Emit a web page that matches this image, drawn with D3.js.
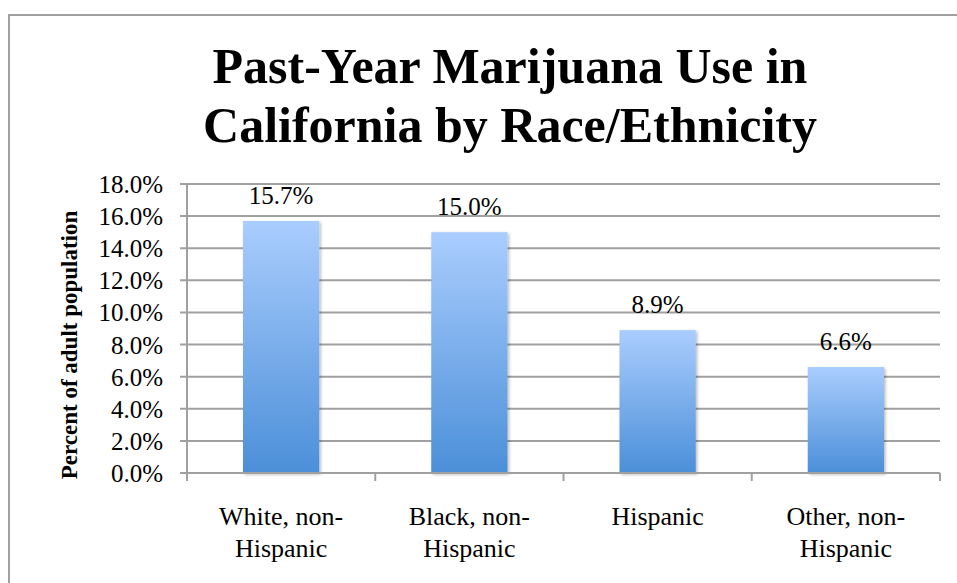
<!DOCTYPE html>
<html>
<head>
<meta charset="utf-8">
<script src="https://cdn.jsdelivr.net/npm/d3@7"></script>
<style>
  html, body { margin: 0; padding: 0; background: #fff; }
  svg { display: block; }
  text { font-family: "Liberation Serif", "Times New Roman", serif; fill: #000; }
</style>
</head>
<body>
<svg id="chart" width="957" height="583"></svg>
<script>
const titleLines = ["Past-Year Marijuana Use in", "California by Race/Ethnicity"];
const yAxisTitle = "Percent of adult population";
const categories = ["White, non-Hispanic", "Black, non-Hispanic", "Hispanic", "Other, non-Hispanic"];
const categoryLabelLines = [["White, non-", "Hispanic"], ["Black, non-", "Hispanic"], ["Hispanic"], ["Other, non-", "Hispanic"]];
const values = [15.7, 15.0, 8.9, 6.6];
const yTicks = [0, 2, 4, 6, 8, 10, 12, 14, 16, 18];

const svg = d3.select("#chart");
const m = { left: 187, right: 940, top: 184, bottom: 473 };

// chart border (extends beyond right/bottom of view)
svg.append("rect")
  .attr("x", 9).attr("y", 15).attr("width", 1100).attr("height", 700)
  .attr("fill", "#fff").attr("stroke", "#a0a0a0").attr("stroke-width", 2);

const defs = svg.append("defs");
const grad = defs.append("linearGradient").attr("id", "barGrad")
  .attr("x1", 0).attr("y1", 0).attr("x2", 0).attr("y2", 1);
grad.append("stop").attr("offset", "0%").attr("stop-color", "#aacdfe");
grad.append("stop").attr("offset", "100%").attr("stop-color", "#4b8fd8");

const filt = defs.append("filter").attr("id", "shadow")
  .attr("x", "-20%").attr("y", "-10%").attr("width", "140%").attr("height", "120%");
filt.append("feDropShadow").attr("dx", 1.5).attr("dy", 1.5).attr("stdDeviation", 1.8)
  .attr("flood-color", "#000").attr("flood-opacity", 0.28);

const x = d3.scaleBand().domain(categories).range([m.left, m.right]).paddingInner(0).paddingOuter(0);
const y = d3.scaleLinear().domain([0, 18]).range([m.bottom, m.top]);

// gridlines
svg.append("g").selectAll("line").data(yTicks).join("line")
  .attr("x1", m.left - 7).attr("x2", m.right)
  .attr("y1", d => y(d)).attr("y2", d => y(d))
  .attr("stroke", "#a0a0a0").attr("stroke-width", 2);

// y axis line
svg.append("line").attr("x1", m.left).attr("x2", m.left)
  .attr("y1", m.top).attr("y2", m.bottom)
  .attr("stroke", "#a0a0a0").attr("stroke-width", 2);

// y tick labels via axis
const yAxis = d3.axisLeft(y).tickValues(yTicks).tickSize(0).tickPadding(0)
  .tickFormat(d => d.toFixed(1) + "%");
const yg = svg.append("g").attr("transform", `translate(${m.left - 24},0)`).call(yAxis);
yg.select(".domain").remove();
yg.selectAll("text").style("font-size", "25px").attr("font-family", "Liberation Serif, serif").attr("fill", "#000").attr("dy", "0.34em");

// x axis boundary ticks
const bounds = categories.map(c => x(c)).concat([m.right]);
svg.append("g").selectAll("line").data(bounds).join("line")
  .attr("x1", d => d).attr("x2", d => d)
  .attr("y1", m.bottom).attr("y2", m.bottom + 8)
  .attr("stroke", "#a0a0a0").attr("stroke-width", 2);

// bars
const bw = x.bandwidth() * 0.405;
svg.append("g").selectAll("rect").data(values).join("rect")
  .attr("x", (d, i) => x(categories[i]) + x.bandwidth() / 2 - bw / 2)
  .attr("width", bw)
  .attr("y", d => y(d))
  .attr("height", d => y(0) - y(d))
  .attr("fill", "url(#barGrad)")
  .attr("filter", "url(#shadow)");

// re-draw baseline on top of shadows
svg.append("line").attr("x1", m.left).attr("x2", m.right)
  .attr("y1", y(0)).attr("y2", y(0))
  .attr("stroke", "#a0a0a0").attr("stroke-width", 2);

// data labels
svg.append("g").selectAll("text").data(values).join("text")
  .attr("x", (d, i) => x(categories[i]) + x.bandwidth() / 2)
  .attr("y", d => y(d) - 17)
  .attr("text-anchor", "middle")
  .style("font-size", "25px")
  .text(d => d.toFixed(1) + "%");

// category labels
const cl = svg.append("g").selectAll("text").data(categoryLabelLines).join("text")
  .attr("text-anchor", "middle")
  .style("font-size", "26px");
cl.each(function(lines, i) {
  const t = d3.select(this);
  lines.forEach((ln, j) => {
    t.append("tspan")
      .attr("x", x(categories[i]) + x.bandwidth() / 2)
      .attr("y", 525 + j * 32)
      .text(ln);
  });
});

// title
svg.append("g").selectAll("text").data(titleLines).join("text")
  .attr("x", 510)
  .attr("y", (d, i) => 83 + i * 59)
  .attr("text-anchor", "middle")
  .style("font-size", "50px").style("font-weight", "bold")
  .text(d => d);

// y axis title
svg.append("text")
  .attr("transform", `translate(77, 345) rotate(-90)`)
  .attr("text-anchor", "middle")
  .style("font-size", "23px").style("font-weight", "bold")
  .text(yAxisTitle);
</script>
</body>
</html>
